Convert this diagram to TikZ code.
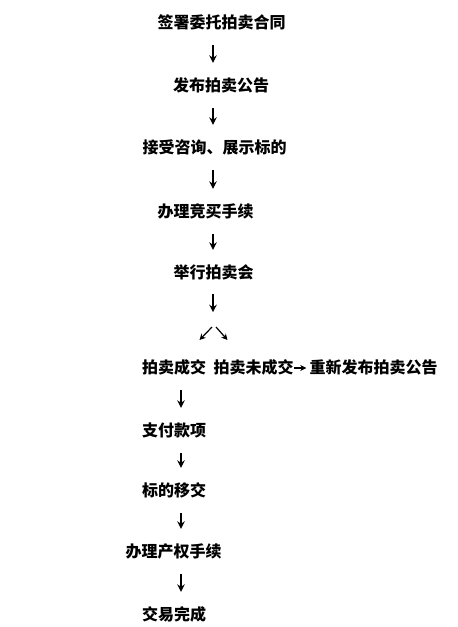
\documentclass[tikz,border=0pt]{standalone}
\usepackage{fontspec}
\newfontfamily\cjk{Noto Sans CJK SC}
\usetikzlibrary{arrows.meta}
\tikzset{
  lbl/.style={inner sep=0pt, text height=13pt, text depth=3pt, font=\cjk\bfseries\fontsize{16pt}{16pt}\selectfont},
  arr/.style={line width=1.7pt, -{Stealth[length=7.5pt,width=7.5pt,inset=2.5pt]}, shorten <=14pt, shorten >=15pt},
  darr/.style={line width=1.2pt, -{Stealth[length=6pt,width=6pt,inset=1.8pt]}},
  harr/.style={line width=1.2pt, -{Stealth[length=6pt,width=6pt,inset=1.8pt]}, shorten <=0.5pt, shorten >=3pt}
}
\begin{document}
\begin{tikzpicture}[x=1pt,y=-1pt]
\useasboundingbox[fill=white] (0,0) rectangle (458,627);
\coordinate (colA) at (213,0);
\coordinate (colB) at (181,0);
\node[lbl] (n1) at (221.5,23) {签署委托拍卖合同};
\node[lbl] (n2) at (221,86) {发布拍卖公告};
\node[lbl] (n3) at (214.5,148) {接受咨询、展示标的};
\node[lbl] (n4) at (205.5,212) {办理竞买手续};
\node[lbl] (n5) at (213.5,273) {举行拍卖会};
\node[lbl] (n6) at (174,368) {拍卖成交};
\node[lbl] (n7) at (253.5,368) {拍卖未成交};
\node[lbl] (n8) at (373.5,368) {重新发布拍卖公告};
\node[lbl] (n9) at (174,431) {支付款项};
\node[lbl] (n10) at (174,491) {标的移交};
\node[lbl] (n11) at (173.5,552) {办理产权手续};
\node[lbl] (n12) at (174,615) {交易完成};
\draw[arr] (colA |- n1.south) -- (colA |- n2.north);
\draw[arr] (colA |- n2.south) -- (colA |- n3.north);
\draw[arr] (colA |- n3.south) -- (colA |- n4.north);
\draw[arr] (colA |- n4.south) -- (colA |- n5.north);
\draw[arr, shorten <=0pt, shorten >=0pt] (colA |- n5.south) ++(0,13) -- ++(0,18);
\coordinate (sl) at (212,327);
\coordinate (el) at (199.5,340);
\coordinate (sr) at (216,327);
\coordinate (er) at (227.5,340);
\draw[darr] (sl) -- (el);
\draw[darr] (sr) -- (er);
\draw[harr] (n7) -- (n8);
\draw[arr] (colB |- n6.south) -- (colB |- n9.north);
\draw[arr] (colB |- n9.south) -- (colB |- n10.north);
\draw[arr] (colB |- n10.south) -- (colB |- n11.north);
\draw[arr] (colB |- n11.south) -- (colB |- n12.north);
\end{tikzpicture}
\end{document}
